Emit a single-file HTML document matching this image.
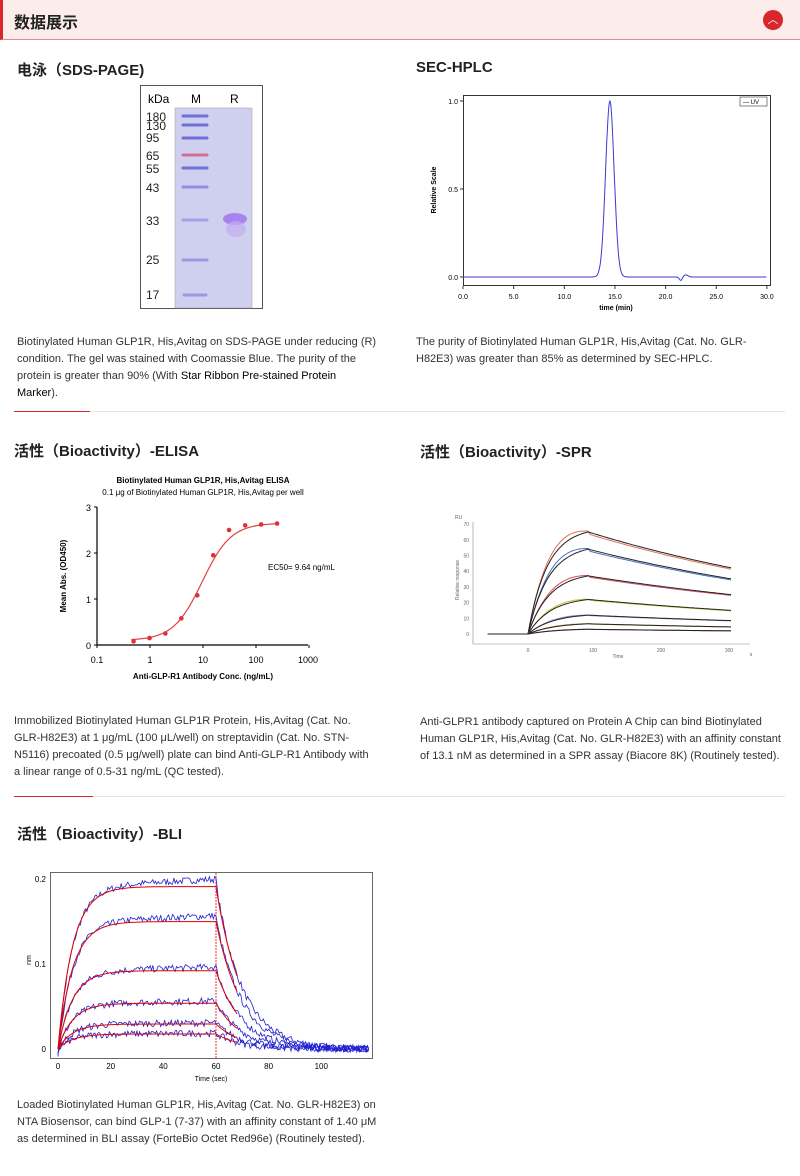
<!DOCTYPE html>
<html><head><meta charset="utf-8">
<style>
body{margin:0;width:800px;height:1176px;background:#fff;font-family:"Liberation Sans","Noto Sans CJK SC",sans-serif;position:relative;overflow:hidden;color:#333}
.abs{position:absolute}
.h{font-weight:bold;font-size:15px;color:#222}
.cap{font-size:11px;line-height:17px;color:#333}
svg text{font-family:"Liberation Sans",sans-serif}
</style></head><body>
<div class="abs" style="left:0;top:0;width:798px;height:39px;background:#fcecec;border-left:3px solid #d9252b;border-bottom:1px solid #e38a8a;border-right:1px solid #eab"></div>
<div class="abs h" style="left:14px;top:9px;font-size:16px">数据展示</div>
<div class="abs" style="left:763px;top:10px;width:20px;height:20px;border-radius:50%;background:#d9252b;color:#fff;text-align:center;font-size:11px;line-height:20px">︿</div>

<div class="abs h" style="left:17px;top:59px">电泳（SDS-PAGE)</div>
<div class="abs h" style="left:416px;top:59px">SEC-HPLC</div>

<svg class="abs" style="left:0;top:0" width="800" height="1176">
<rect x="140.5" y="85.5" width="122" height="223" fill="#fff" stroke="#555"/>
<text x="148" y="103" font-size="12">kDa</text><text x="191" y="103" font-size="12">M</text><text x="230" y="103" font-size="12">R</text>
<rect x="175" y="108" width="77" height="200" fill="#cfd0ef" stroke="#999" stroke-width="0.5"/>
<g font-size="12" fill="#222" font-family="Liberation Sans Narrow,Liberation Sans">
<text x="146" y="121">180</text><text x="146" y="130">130</text><text x="146" y="142">95</text><text x="146" y="160">65</text><text x="146" y="173">55</text><text x="146" y="192">43</text><text x="146" y="225">33</text><text x="146" y="264">25</text><text x="146" y="299">17</text></g>
<g stroke="#6f70d8" stroke-width="3" stroke-linecap="round">
<line x1="183" y1="116" x2="207" y2="116"/><line x1="183" y1="125" x2="207" y2="125"/><line x1="183" y1="138" x2="207" y2="138"/>
<line x1="183" y1="168" x2="207" y2="168"/><line x1="183" y1="187" x2="207" y2="187" stroke="#8f90e0"/><line x1="183" y1="220" x2="207" y2="220" stroke="#a0a2e6"/>
<line x1="183" y1="260" x2="207" y2="260" stroke="#9899e0"/><line x1="184" y1="295" x2="206" y2="295" stroke="#9899e0"/>
<line x1="183" y1="155" x2="207" y2="155" stroke="#d07090"/></g>
<ellipse cx="235" cy="219" rx="12" ry="6" fill="#a783ee"/><ellipse cx="236" cy="229" rx="10" ry="8" fill="#c2aef0" opacity="0.7"/>

<rect x="463.5" y="95.5" width="307" height="190" fill="none" stroke="#333"/>
<rect x="740" y="97" width="27" height="9" fill="none" stroke="#333" stroke-width="0.6"/><text x="743" y="104" font-size="6">— UV</text>
<g font-size="7" text-anchor="end"><text x="458" y="104">1.0</text><text x="458" y="192">0.5</text><text x="458" y="280">0.0</text></g>
<g stroke="#333"><line x1="460" y1="101" x2="463" y2="101"/><line x1="460" y1="189" x2="463" y2="189"/><line x1="460" y1="277" x2="463" y2="277"/></g>
<text x="436" y="190" font-size="7" font-weight="bold" transform="rotate(-90 436 190)" text-anchor="middle">Relative Scale</text>
<g font-size="7" text-anchor="middle" id="secx"></g>
<text x="616" y="310" font-size="7" font-weight="bold" text-anchor="middle">time (min)</text>
<path id="sec" fill="none" stroke="#3a3ad0" stroke-width="1"/>

<line x1="14" y1="411.5" x2="785" y2="411.5" stroke="#e5e5e5"/><line x1="14" y1="411.5" x2="90" y2="411.5" stroke="#d9252b"/>

<text x="203" y="483" font-size="8" font-weight="bold" text-anchor="middle">Biotinylated Human GLP1R, His,Avitag ELISA</text>
<text x="203" y="495" font-size="8" text-anchor="middle">0.1 μg of Biotinylated Human GLP1R, His,Avitag per well</text>
<g stroke="#000" stroke-width="1.2"><line x1="97" y1="507" x2="97" y2="645"/><line x1="97" y1="645" x2="308" y2="645"/></g>
<g id="elt" stroke="#000"></g>
<g font-size="9" text-anchor="end"><text x="91" y="649">0</text><text x="91" y="603">1</text><text x="91" y="557">2</text><text x="91" y="511">3</text></g>
<g font-size="9" text-anchor="middle"><text x="97" y="663">0.1</text><text x="150" y="663">1</text><text x="203" y="663">10</text><text x="256" y="663">100</text><text x="308" y="663">1000</text></g>
<text x="203" y="679" font-size="8" font-weight="bold" text-anchor="middle">Anti-GLP-R1 Antibody Conc. (ng/mL)</text>
<text x="66" y="576" font-size="8" font-weight="bold" text-anchor="middle" transform="rotate(-90 66 576)">Mean Abs. (OD450)</text>
<text x="268" y="570" font-size="8">EC50= 9.64 ng/mL</text>
<path id="elc" fill="none" stroke="#e04040" stroke-width="1.2"/>
<g id="elp" fill="#e03030"></g>

<g stroke="#888" stroke-width="0.6" fill="none"><line x1="473" y1="522" x2="473" y2="644"/><line x1="473" y1="644" x2="750" y2="644"/></g>
<g id="sprt" font-size="5" fill="#666" text-anchor="end"></g>
<text x="455" y="519" font-size="5" fill="#666">RU</text>
<text x="459" y="580" font-size="5" fill="#666" text-anchor="middle" transform="rotate(-90 459 580)">Relative response</text>
<g font-size="5" fill="#666" text-anchor="middle"><text x="528" y="652">0</text><text x="593" y="652">100</text><text x="661" y="652">200</text><text x="729" y="652">300</text><text x="618" y="658">Time</text><text x="751" y="656">s</text></g>
<g id="spr" fill="none"></g>

<line x1="14" y1="796.5" x2="785" y2="796.5" stroke="#e5e5e5"/><line x1="14" y1="796.5" x2="93" y2="796.5" stroke="#d9252b"/>

<rect x="50.5" y="872.5" width="322" height="186" fill="none" stroke="#444" stroke-width="0.8"/>
<g font-size="8" text-anchor="end"><text x="46" y="882">0.2</text><text x="46" y="967">0.1</text><text x="46" y="1052">0</text></g>
<text x="31" y="960" font-size="7" text-anchor="middle" transform="rotate(-90 31 960)">nm</text>
<g id="blx" font-size="8" text-anchor="middle"></g>
<text x="211" y="1081" font-size="7" text-anchor="middle">Time (sec)</text>
<line x1="216" y1="873" x2="216" y2="1058" stroke="#e00" stroke-width="0.8" stroke-dasharray="2,1"/>
<g id="bli" fill="none"></g>
</svg>

<div class="abs cap" style="left:17px;top:334px;width:362px">Biotinylated Human GLP1R, His,Avitag on SDS-PAGE under reducing (R) condition. The gel was stained with Coomassie Blue. The purity of the protein is greater than 90% (With <span style="color:#000">Star Ribbon Pre-stained Protein Marker</span>).</div>
<div class="abs cap" style="left:416px;top:334px;width:348px">The purity of Biotinylated Human GLP1R, His,Avitag (Cat. No. GLR-H82E3) was greater than 85% as determined by SEC-HPLC.</div>
<div class="abs h" style="left:14px;top:440px">活性（Bioactivity）-ELISA</div>
<div class="abs h" style="left:420px;top:441px">活性（Bioactivity）-SPR</div>
<div class="abs cap" style="left:14px;top:713px;width:360px">Immobilized Biotinylated Human GLP1R Protein, His,Avitag (Cat. No. GLR-H82E3) at 1 μg/mL (100 μL/well) on streptavidin (Cat. No. STN-N5116) precoated (0.5 μg/well) plate can bind Anti-GLP-R1 Antibody with a linear range of 0.5-31 ng/mL (QC tested).</div>
<div class="abs cap" style="left:420px;top:714px;width:366px">Anti-GLPR1 antibody captured on Protein A Chip can bind Biotinylated Human GLP1R, His,Avitag (Cat. No. GLR-H82E3) with an affinity constant of 13.1 nM as determined in a SPR assay (Biacore 8K) (Routinely tested).</div>
<div class="abs h" style="left:17px;top:823px">活性（Bioactivity）-BLI</div>
<div class="abs cap" style="left:17px;top:1097px;width:366px">Loaded Biotinylated Human GLP1R, His,Avitag (Cat. No. GLR-H82E3) on NTA Biosensor, can bind GLP-1 (7-37) with an affinity constant of 1.40 μM as determined in BLI assay (ForteBio Octet Red96e) (Routinely tested).</div>

<script>
const NS="http://www.w3.org/2000/svg";
function el(t,a,p){const e=document.createElementNS(NS,t);for(const k in a)e.setAttribute(k,a[k]);if(p)p.appendChild(e);return e;}
let d="";const sx=m=>463+m*10.13,sy=v=>277-v*176;
for(let m=0;m<=30;m+=0.05){let v=Math.exp(-Math.pow((m-14.5)/0.42,2)/2);v+=-0.02*Math.exp(-Math.pow((m-21.5)/0.2,2))+0.012*Math.exp(-Math.pow((m-22)/0.3,2));d+=(m?"L":"M")+sx(m).toFixed(1)+","+sy(v).toFixed(1);}
document.getElementById("sec").setAttribute("d",d);
const gx=document.getElementById("secx");
for(let i=0;i<=6;i++){const t=el("text",{x:sx(i*5),y:299},gx);t.textContent=(i*5).toFixed(1);el("line",{x1:sx(i*5),y1:286,x2:sx(i*5),y2:289,stroke:"#333"},gx.parentNode);}
const ex=c=>150+Math.log10(c)*53,ey=v=>645-v*46;
const f=c=>0.1+2.55/(1+Math.pow(9.64/c,1.6));
d="";for(let l=-0.35;l<=2.45;l+=0.02){const c=Math.pow(10,l);d+=(d?"L":"M")+ex(c).toFixed(1)+","+ey(f(c)).toFixed(1);}
document.getElementById("elc").setAttribute("d",d);
const pts=[[0.49,0.08],[0.98,0.15],[1.95,0.25],[3.9,0.58],[7.8,1.08],[15.6,1.95],[31,2.5],[62.5,2.6],[125,2.62],[250,2.64]];
pts.forEach(p=>el("circle",{cx:ex(p[0]),cy:ey(p[1]),r:2.3},document.getElementById("elp")));
const et=document.getElementById("elt");
[0,1,2,3].forEach(v=>el("line",{x1:94,y1:ey(v),x2:97,y2:ey(v)},et));
[0.1,1,10,100,1000].forEach(c=>el("line",{x1:ex(c),y1:645,x2:ex(c),y2:648},et));
const px=t=>528+t*0.67,py=r=>634-r*1.57;
const st=document.getElementById("sprt");
for(let r=0;r<=70;r+=10){const t=el("text",{x:469,y:py(r)+2},st);t.textContent=r;}
const spr=document.getElementById("spr");
const lv=[[65,42,"#e07050"],[54,35,"#4a70c0"],[37,25,"#d05060"],[22,15,"#c8c030"],[12,8.5,"#9080d0"],[6.5,4.5,"#c0a030"],[3,2,"#a050a0"]];
lv.forEach((L,i)=>{const k=0.035-i*0.002;const kd=Math.log(L[0]/L[1])/215;
 let a="",b="";a="M"+px(-60)+","+py(0)+"L"+px(0)+","+py(0);b=a;
 for(let t=0;t<=305;t+=3){let r=t<=90?L[0]*(1-Math.exp(-k*t))/(1-Math.exp(-k*90)):L[0]*Math.exp(-kd*(t-90));
  let r2=t<=90?r*(1+0.06*Math.sin(t/30)):r*0.98;
  a+="L"+px(t).toFixed(1)+","+py(r2).toFixed(1);b+="L"+px(t).toFixed(1)+","+py(r).toFixed(1);}
 el("path",{d:a,stroke:L[2],"stroke-width":1},spr);el("path",{d:b,stroke:"#222","stroke-width":1},spr);});
const bx=t=>58+t*2.633,by=v=>1049-v*850;
const gb=document.getElementById("blx");
for(let t=0;t<=100;t+=20){const tt=el("text",{x:bx(t),y:1069},gb);tt.textContent=t;}
let seed=7;const rnd=()=>{seed=(seed*16807)%2147483647;return seed/2147483647-0.5;};
const bl=document.getElementById("bli");
[0.195,0.153,0.094,0.055,0.03,0.018].forEach((R,i)=>{let a="",b="";
 for(let t=0;t<=118;t+=0.5){let v=t<=60?R*(1-Math.exp(-0.18*t)):R*Math.exp(-0.1*(t-60));
  const n=v+rnd()*0.008+(t<=60?R*0.05*(t/60-0.5):0);a+=(t?"L":"M")+bx(t).toFixed(1)+","+by(n).toFixed(1);
  if(t<=68)b+=(t?"L":"M")+bx(t).toFixed(1)+","+by(v*0.98).toFixed(1);}
 el("path",{d:a,stroke:"#2020d0","stroke-width":0.8},bl);el("path",{d:b,stroke:"#e00000","stroke-width":1},bl);});
</script>
</body></html>
